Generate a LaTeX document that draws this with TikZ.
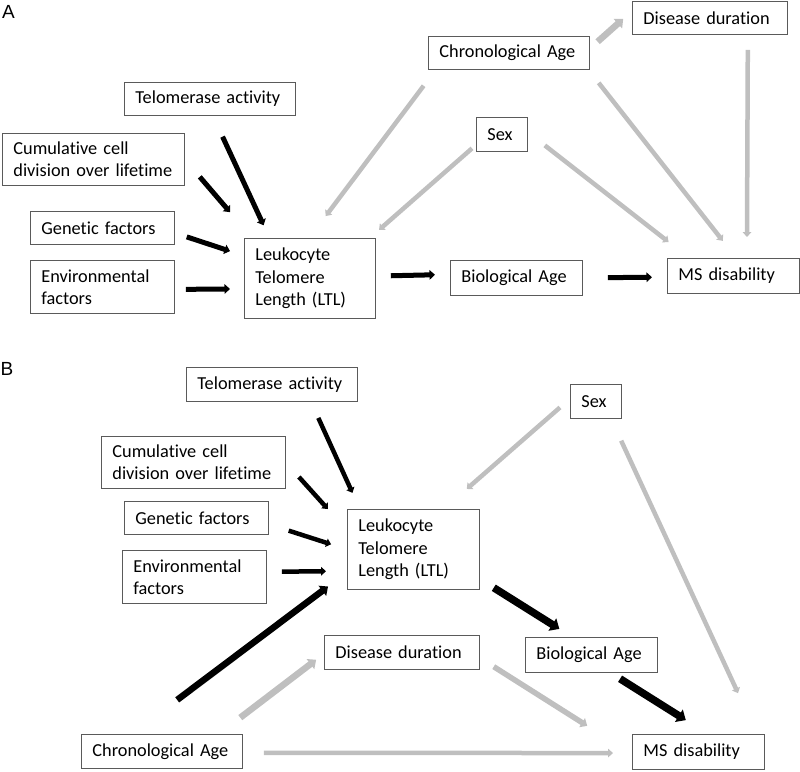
\documentclass[tikz,border=0pt]{standalone}
\usepackage{fontspec}
\setmainfont{Carlito}[Ligatures=NoCommon]
\newfontfamily\panelfont{Liberation Sans}
\usepackage{tikz}
\usetikzlibrary{arrows.meta}
\definecolor{arrowgray}{RGB}{191,191,191}
\definecolor{boxline}{RGB}{90,90,90}
\tikzset{>={Triangle[length=0pt 1.1,width=0pt 1.9]}}
\tikzset{
  box/.style={draw=boxline, line width=0.8pt, anchor=north west, align=left,
    inner xsep=11pt, inner ysep=0pt, font=\fontsize{18.3}{22.3}\selectfont},
  blk/.style={->, line width=5pt, black},
  gry/.style={->, line width=4.5pt, arrowgray},
  panel/.style={inner sep=0pt, font=\panelfont\fontsize{19}{21}\selectfont}
}

\begin{document}
\begin{tikzpicture}[x=1pt,y=-1pt]
    \useasboundingbox (0,0) rectangle (800,771);

    % panel A
    \node[panel] (labA) at (8.5,12) {A};
    \node[box, text width=149pt, minimum height=33pt] (telA) at (124,82) {Telomerase activity};
    \node[box, text width=160pt, minimum height=52pt] (cumA) at (2,133) {Cumulative cell\\division over lifetime};
    \node[box, text width=122pt, minimum height=33pt] (genA) at (30,211) {Genetic factors};
    \node[box, text width=122pt, minimum height=53pt] (envA) at (30,260) {Environmental\\factors};
    \node[box, text width=109pt, minimum height=80pt] (ltlA) at (244,238) {Leukocyte\\Telomere\\Length (LTL)};
    \node[box, text width=110pt, minimum height=35pt] (bioA) at (450,260) {Biological Age};
    \node[box, text width=110pt, minimum height=35pt] (msA) at (667,258) {MS disability};
    \node[box, text width=139pt, minimum height=33pt] (chrA) at (428,36) {\mbox{Chronological Age}};
    \node[box, text width=133pt, minimum height=33pt] (durA) at (632,1) {\mbox{Disease duration}};
    \node[box, text width=29pt, minimum height=34pt] (sexA) at (476,117) {Sex};

    \draw[blk, shorten <=23pt, shorten >=14pt] (telA.-80) -- (ltlA.135);
    \draw[blk, shorten <=23pt, shorten >=34pt] (cumA.east) -- (ltlA.145.5);
    \draw[blk, shorten <=12.6pt, shorten >=14.7pt] (genA.-4.5) -- (ltlA.161);
    \draw[blk, shorten <=11pt, shorten >=14pt] (envA.-2) -- (ltlA.189.5);
    \draw[blk, shorten <=15pt, shorten >=15pt] (ltlA.2.6) -- (bioA.177.8);
    \draw[blk, shorten <=25pt, shorten >=15pt] (bioA.east) -- (msA.181.3);
    \draw[gry, shorten <=20pt, shorten >=27.5pt] (chrA.-167.3) -- (ltlA.91.4);
    \draw[gry, shorten <=5.3pt, shorten >=12.3pt] (sexA.202.4) -- (ltlA.34.5);
    \draw[gry, line width=6.5pt, shorten <=10.5pt, shorten >=11.8pt] (chrA.3.3) -- (durA.175.5);
    \draw[gry, shorten <=15pt, shorten >=21pt] (durA.-24.3) -- (msA.53.4);
    \draw[gry, shorten <=16.6pt, shorten >=21.8pt] (chrA.-12.2) -- (msA.81.5);
    \draw[gry, shorten <=21.6pt, shorten >=26pt] (sexA.5.2) -- (msA.158.5);

    % panel B
    \node[panel] (labB) at (7,368.5) {B};
    \node[box, text width=149pt, minimum height=34pt] (telB) at (186,367) {Telomerase activity};
    \node[box, text width=162pt, minimum height=52pt] (cumB) at (101,436) {Cumulative cell\\division over lifetime};
    \node[box, text width=122pt, minimum height=33pt] (genB) at (124,501) {Genetic factors};
    \node[box, text width=122pt, minimum height=53pt] (envB) at (122,550) {Environmental\\factors};
    \node[box, text width=110pt, minimum height=80pt] (ltlB) at (347,509) {Leukocyte\\Telomere\\Length (LTL)};
    \node[box, text width=133pt, minimum height=34pt] (durB) at (324,635) {\mbox{Disease duration}};
    \node[box, text width=139pt, minimum height=34pt] (chrB) at (81,734) {\mbox{Chronological Age}};
    \node[box, text width=29pt, minimum height=34pt] (sexB) at (570,384) {Sex};
    \node[box, text width=110pt, minimum height=35pt] (bioB) at (525,637) {Biological Age};
    \node[box, text width=110pt, minimum height=35pt] (msB) at (632,734) {MS disability};

    \draw[blk, line width=4.5pt, shorten <=17.7pt, shorten >=17.7pt] (telB.-24.7) -- (ltlB.143.2);
    \draw[blk, line width=4.5pt, shorten <=19.6pt, shorten >=28.7pt] (cumB.east) -- (ltlB.164.3);
    \draw[blk, line width=4.5pt, shorten <=20.9pt, shorten >=16.7pt] (genB.-5.9) -- (ltlB.west);
    \draw[blk, line width=4.5pt, shorten <=15pt, shorten >=21pt] (envB.4.4) -- (ltlB.198.4);
    \draw[blk, line width=6.5pt, shorten <=56.8pt, shorten >=23.7pt] (chrB.150.5) -- (ltlB.199.8);
    \draw[gry, line width=6.5pt, shorten <=27pt, shorten >=9.9pt] (chrB.17.6) -- (durB.181.6);
    \draw[gry, shorten <=21pt, shorten >=19pt] (chrB.-1.4) -- (msB.181.3);
    \draw[gry, shorten <=13.3pt, shorten >=30.4pt] (sexB.174) -- (ltlB.53);
    \draw[gry, shorten <=24.1pt, shorten >=45pt] (sexB.-49.3) -- (msB.17.8);
    \draw[blk, line width=7.5pt, shorten <=16.5pt, shorten >=15.2pt] (ltlB.-24.7) -- (bioB.137.5);
    \draw[gry, line width=5.5pt, shorten <=16.5pt, shorten >=53pt] (durB.-4.6) -- (msB.182.3);
    \draw[blk, line width=7.5pt, shorten <=11.2pt, shorten >=26.1pt] (bioB.-43.3) -- (msB.62.8);
\end{tikzpicture}
\end{document}
